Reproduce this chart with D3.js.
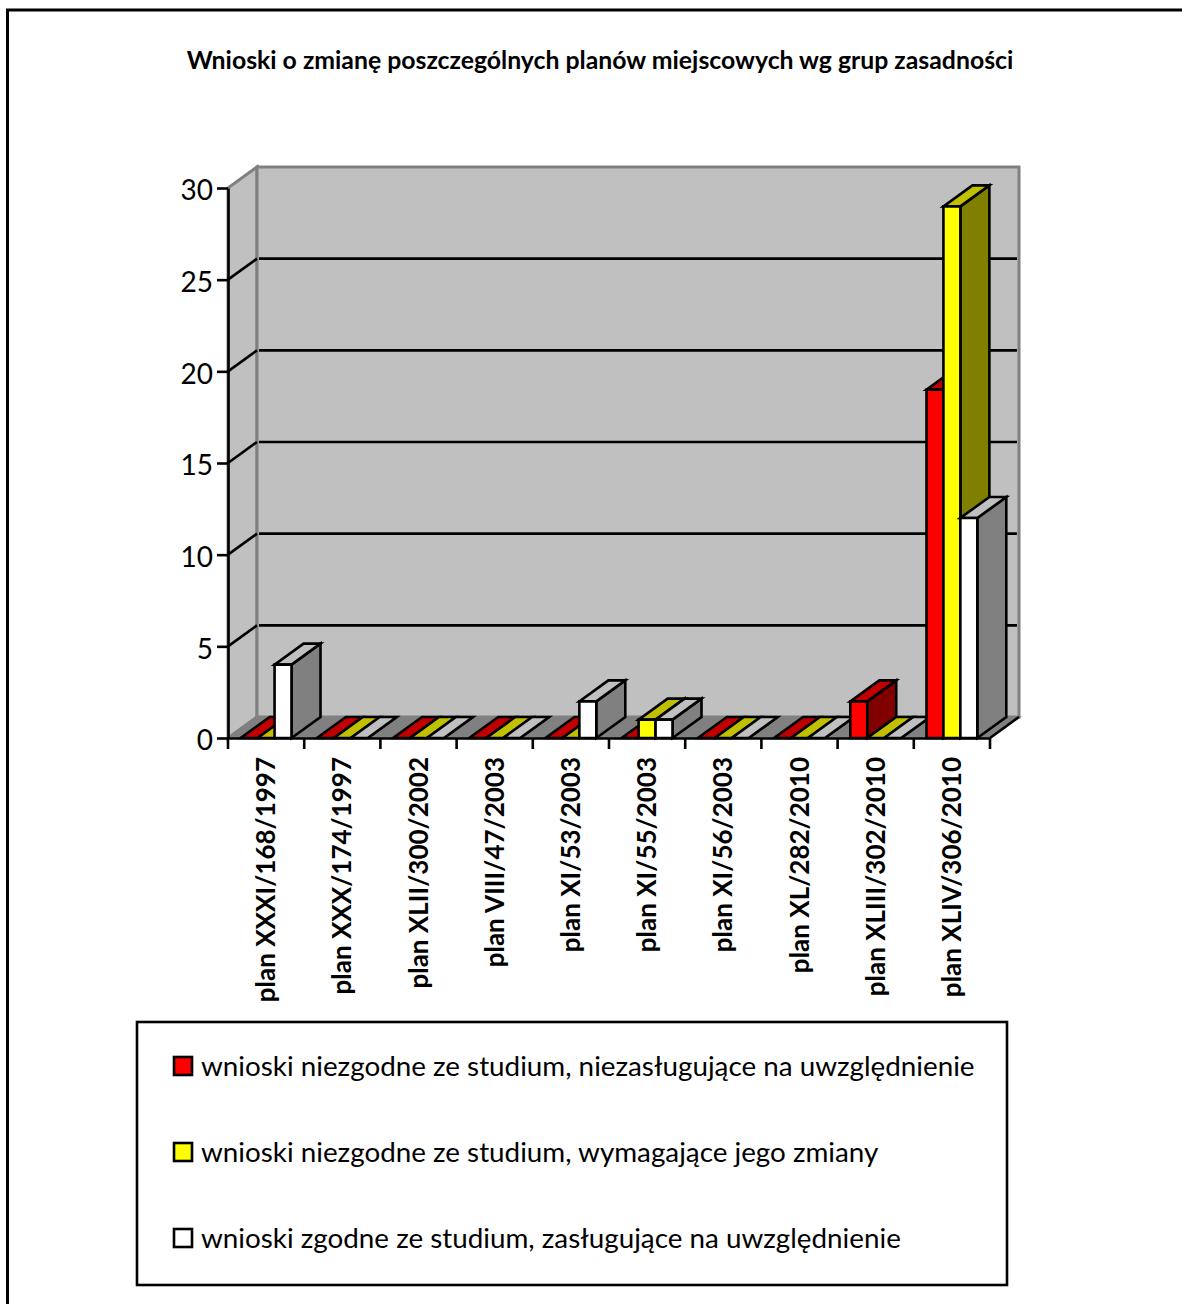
<!DOCTYPE html>
<html>
<head>
<meta charset="utf-8">
<script src="https://cdn.jsdelivr.net/npm/d3@7"></script>
<style>
  body { margin: 0; background: #fff; }
  text { font-family: Lato, sans-serif; fill: #000; }
</style>
</head>
<body>
<script>
var title = "Wnioski o zmianę poszczególnych planów miejscowych wg grup zasadności";

var categories = ["plan XXXI/168/1997", "plan XXX/174/1997", "plan XLII/300/2002", "plan VIII/47/2003",
  "plan XI/53/2003", "plan XI/55/2003", "plan XI/56/2003", "plan XL/282/2010", "plan XLIII/302/2010", "plan XLIV/306/2010"];

var seriesNames = ["wnioski niezgodne ze studium, niezasługujące na uwzględnienie",
  "wnioski niezgodne ze studium, wymagające jego zmiany",
  "wnioski zgodne ze studium, zasługujące na uwzględnienie"];

var redValues = [0, 0, 0, 0, 0, 0, 0, 0, 2, 19];
var yellowValues = [0, 0, 0, 0, 0, 1, 0, 0, 0, 29];
var whiteValues = [4, 0, 0, 0, 2, 1, 0, 0, 0, 12];
var seriesValues = [redValues, yellowValues, whiteValues];

var yTicks = [0, 5, 10, 15, 20, 25, 30];

// front, top and side colours of each series
var frontColors = ["#FF0000", "#FFFF00", "#FFFFFF"];
var topColors = ["#C00000", "#C0C000", "#C0C0C0"];
var sideColors = ["#800000", "#808000", "#808080"];

var svgWidth = 1182;
var svgHeight = 1304;

// 3D offset of the back wall
var depthX = 29;
var depthY = -21;

var lineW = 2.6;

var svg = d3.select("body")
  .append("svg")
  .attr("width", svgWidth)
  .attr("height", svgHeight)
  .style("display", "block");

var xScale = d3.scaleBand()
  .domain(categories)
  .range([228, 990]);

var xSeries = d3.scaleBand()
  .domain(d3.range(seriesNames.length))
  .range([0, xScale.bandwidth()])
  .paddingInner(0)
  .paddingOuter(0.75);

var yScale = d3.scaleLinear()
  .domain([0, 30])
  .range([738, 188]);

var left = xScale.range()[0];
var right = xScale.range()[1];
var y0 = yScale(0);
var yTop = yScale(30);

function poly(points, fill, stroke, width) {
  svg.append("polygon")
    .attr("points", points.map(p => p.join(",")).join(" "))
    .attr("fill", fill)
    .attr("stroke", stroke)
    .attr("stroke-width", width || lineW)
    .attr("stroke-linejoin", "miter");
}

// outer frame
svg.append("rect")
  .attr("x", 7.5).attr("y", 10)
  .attr("width", svgWidth + 20).attr("height", svgHeight + 20)
  .attr("fill", "#fff").attr("stroke", "#000").attr("stroke-width", 3);

svg.append("text")
  .attr("x", 600).attr("y", 69)
  .attr("text-anchor", "middle")
  .attr("font-size", 24.8)
  .attr("font-weight", "bold")
  .text(title);

// walls and floor
poly([[left, y0], [left + depthX, y0 + depthY], [left + depthX, yTop + depthY], [left, yTop]], "#C0C0C0", "#808080", 3);
poly([[left + depthX, y0 + depthY], [right + depthX, y0 + depthY], [right + depthX, yTop + depthY], [left + depthX, yTop + depthY]], "#C0C0C0", "#808080", 3);
poly([[left, y0], [right, y0], [right + depthX, y0 + depthY], [left + depthX, y0 + depthY]], "#808080", "#808080", 2);

// gridlines across side wall and back wall
yTicks.filter(t => t > 0 && t < 30).forEach(function (t) {
  svg.append("path")
    .attr("d", d3.line()([[left, yScale(t)], [left + depthX, yScale(t) + depthY]]))
    .attr("fill", "none")
    .attr("stroke", "#000")
    .attr("stroke-width", lineW);
  svg.append("line")
    .attr("x1", left + depthX + 2).attr("x2", right + depthX - 2)
    .attr("y1", yScale(t) + depthY).attr("y2", yScale(t) + depthY)
    .attr("stroke", "#000")
    .attr("stroke-width", lineW);
});

// right floor edge
svg.append("line")
  .attr("x1", right).attr("y1", y0)
  .attr("x2", right + depthX).attr("y2", y0 + depthY)
  .attr("stroke", "#000").attr("stroke-width", lineW);

// bars, left to right so each one covers the side of the previous
categories.forEach(function (cat, i) {
  seriesValues.forEach(function (values, s) {
    var x1 = xScale(cat) + xSeries(s);
    var x2 = x1 + xSeries.bandwidth();
    var yv = yScale(values[i]);
    poly([[x2, y0], [x2 + depthX, y0 + depthY], [x2 + depthX, yv + depthY], [x2, yv]], sideColors[s], "#000");
    poly([[x1, yv], [x2, yv], [x2 + depthX, yv + depthY], [x1 + depthX, yv + depthY]], topColors[s], "#000");
    if (values[i] > 0) {
      poly([[x1, y0], [x2, y0], [x2, yv], [x1, yv]], frontColors[s], "#000");
    }
  });
});

// axes
var leftAxis = d3.axisLeft(yScale).tickValues(yTicks).tickSize(11).tickSizeOuter(0).tickPadding(4);
var bottomAxis = d3.axisBottom(xScale).tickSize(0).tickSizeOuter(0);

var yAxisGroup = svg.append("g")
  .attr("transform", `translate(${left}, 0)`)
  .call(leftAxis);
yAxisGroup.selectAll("text")
  .attr("font-size", 28)
  .attr("dy", "0.42em")
  .style("font-family", "Lato, sans-serif")
  .style("fill", "#000");
yAxisGroup.selectAll("line, path").attr("stroke", "#000").attr("stroke-width", lineW);

var xAxisGroup = svg.append("g")
  .attr("transform", `translate(0, ${y0})`)
  .call(bottomAxis);
xAxisGroup.select(".domain").attr("stroke", "#000").attr("stroke-width", lineW);
xAxisGroup.selectAll("text")
  .attr("transform", "rotate(-90)")
  .attr("x", -19)
  .attr("y", 0)
  .attr("dy", ".35em")
  .attr("font-size", 26)
  .attr("font-weight", "bold")
  .style("font-family", "Lato, sans-serif")
  .style("fill", "#000")
  .style("text-anchor", "end");

// tick marks sit on the category edges
svg.append("g")
  .selectAll("line")
  .data(categories.concat(["end"]))
  .enter()
  .append("line")
  .attr("x1", (d, i) => i < categories.length ? xScale(d) : right)
  .attr("x2", (d, i) => i < categories.length ? xScale(d) : right)
  .attr("y1", y0)
  .attr("y2", y0 + 11)
  .attr("stroke", "#000")
  .attr("stroke-width", lineW);

// legend
svg.append("rect")
  .attr("x", 137).attr("y", 1022)
  .attr("width", 870).attr("height", 263)
  .attr("fill", "#fff").attr("stroke", "#000").attr("stroke-width", lineW);

var legendY = d3.scalePoint()
  .domain(d3.range(seriesNames.length))
  .range([1066, 1238]);

seriesNames.forEach(function (name, s) {
  svg.append("rect")
    .attr("x", 174).attr("y", legendY(s) - 9)
    .attr("width", 18).attr("height", 18)
    .attr("fill", frontColors[s]).attr("stroke", "#000").attr("stroke-width", lineW);
  svg.append("text")
    .attr("x", 201).attr("y", legendY(s) + 10)
    .attr("font-size", 27.8)
    .text(name);
});
</script>
</body>
</html>
